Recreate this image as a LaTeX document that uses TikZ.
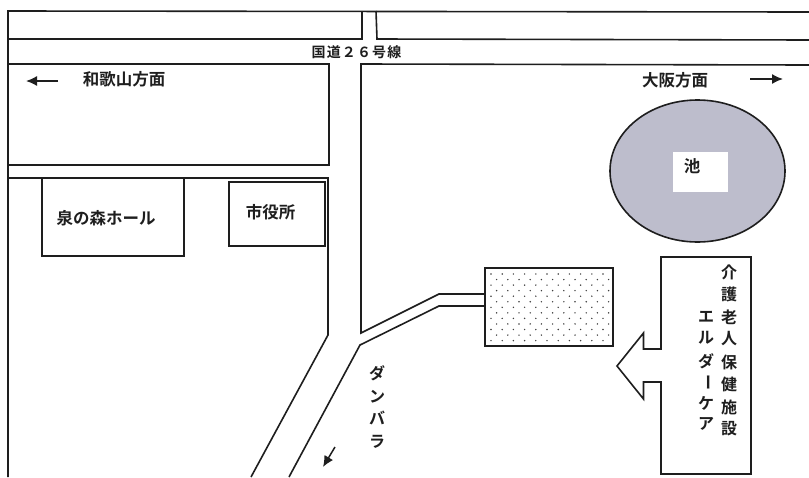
\documentclass[tikz,border=0pt]{standalone}
\usepackage{fontspec}
\usetikzlibrary{arrows.meta}
\newfontfamily\jpf{Noto Sans CJK JP Bold}
\definecolor{pondgrey}{RGB}{189,189,204}
\definecolor{ink}{RGB}{30,30,30}
\tikzset{
  x=1pt,y=-1pt,
  road/.style={draw=ink,line width=1.6pt,line join=miter},
  lbl/.style={inner sep=0pt,font=\jpf\fontsize{16.5}{16.5}\selectfont,text=ink},
  tate/.style={inner sep=0pt,font=\jpf\fontsize{16}{16}\selectfont,text=ink},
  dirarrow/.style={draw=ink,line width=1.5pt,-{Latex[length=11pt,width=10pt]}},
}
\begin{document}
\begin{tikzpicture}
\useasboundingbox (0,0) rectangle (809,477);
\fill[white] (0,0) rectangle (809,477);
% roads
\draw[road] (8,477) -- (8,11) -- (809,12);
\draw[road] (8,39) -- (362,39) -- (362,11);
\draw[road] (376,11) -- (377,39) -- (809,40);
\draw[road] (8,64) -- (329,64) -- (329,165) -- (8,165);
\draw[road] (809,65) -- (361,64) -- (361,333) -- (439,294) -- (485,294);
\draw[road] (8,178) -- (328,178) -- (328,335) -- (251,477);
\draw[road] (289,477) -- (360,345) -- (439,306) -- (485,306);
% buildings
\draw[road] (42,178) -- (42,256) -- (184,256) -- (184,178);
\draw[road] (229,246) rectangle (325,182);
% pond
\draw[draw=ink,line width=1.6pt,fill=pondgrey] (697.5,171) ellipse [x radius=87.5,y radius=71];
\fill[white] (673,152) rectangle (728,192);
% dotted site
\draw[road] (485,268) rectangle (613,346);
\foreach \r in {0,...,12}{
  \pgfmathsetmacro{\yy}{274+\r*5.55}
  \pgfmathsetmacro{\off}{mod(\r,2)*5.6}
  \foreach \c in {0,...,10}{
    \fill[black!75] ({491+\off+\c*11.2},\yy) circle (0.8);
  }
}
% callout
\draw[road] (661,257) -- (751,257) -- (751,474) -- (661,474) -- (661,382) -- (643.5,382) -- (643.5,399) -- (617,366) -- (643.5,333) -- (643.5,349) -- (661,349) -- cycle;
% labels
\node[lbl,font=\jpf\addfontfeature{LetterSpace=8}\fontsize{14}{14}\selectfont] (route) at (356.5,52) {国道２６号線};
\node[lbl] (wakayama) at (124,79) {和歌山方面};
\node[lbl] (osaka) at (675,80) {大阪方面};
\node[lbl] (hall) at (106,218) {泉の森ホール};
\node[lbl] (city) at (270.5,212) {市役所};
\node[lbl] (pond) at (692,166) {池};
% direction arrows
\coordinate (wa) at (58,81); \coordinate (wb) at (26,81);
\draw[dirarrow] (wa) -- (wb);
\coordinate (oa) at (750,79); \coordinate (ob) at (783,79);
\draw[dirarrow] (oa) -- (ob);
\coordinate (da) at (335,447); \coordinate (db) at (323,467);
\draw[dirarrow] (da) -- (db);
% vertical text
\node[tate] (k1) at (729,272) {介};
\node[tate] (k2) at (729,294) {護};
\node[tate] (k3) at (729,317) {老};
\node[tate] (k4) at (729,339) {人};
\node[tate] (k5) at (729,362) {保};
\node[tate] (k6) at (729,384) {健};
\node[tate] (k7) at (729,407) {施};
\node[tate] (k8) at (729,429) {設};
\node[tate] (e1) at (706,317) {エ};
\node[tate] (e2) at (706,338) {ル};
\node[tate] (e3) at (706,361) {ダ};
\node[tate,rotate=-90] (e4) at (706,382) {ー};
\node[tate] (e5) at (706,403) {ケ};
\node[tate] (e6) at (706,424) {ア};
\node[tate] (d1) at (377,373) {ダ};
\node[tate] (d2) at (377,397) {ン};
\node[tate] (d3) at (377,418) {バ};
\node[tate] (d4) at (377,442) {ラ};
\end{tikzpicture}
\end{document}
